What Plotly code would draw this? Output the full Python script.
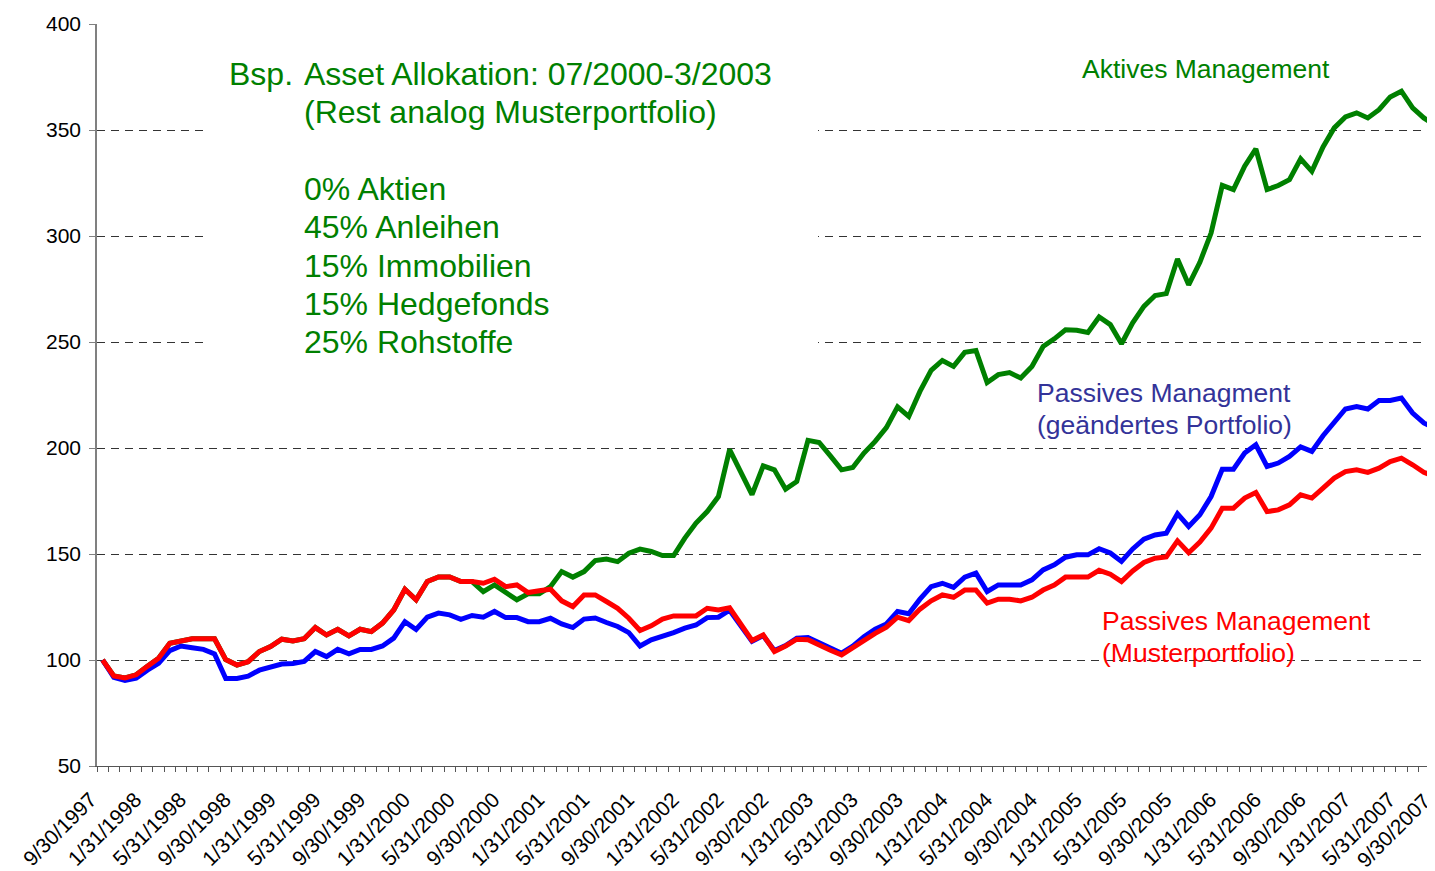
import calendar
import plotly.graph_objects as go

# ---------------- data ----------------
def month_ends(year, month, n):
    out = []
    for _ in range(n):
        d = calendar.monthrange(year, month)[1]
        out.append(f"{month}/{d}/{year}")
        month += 1
        if month > 12:
            month = 1
            year += 1
    return out

dates = month_ends(1997, 9, 121)          # 9/30/1997 ... 9/30/2007 (monthly)
label_step = 4                             # a label every 4 months

passiv_muster = [
    100, 92.5, 91.5, 93, 97, 100.8, 107.9, 108.7, 110, 110,
    110, 100.2, 97.6, 99.2, 104, 106.3, 109.8, 109, 110, 115.3,
    111.8, 114.5, 111.4, 114.5, 113.4, 117.4, 123.6, 133.4, 128.4, 137,
    139.2, 139.2, 137, 137, 136.2, 138.1, 134.6, 135.4, 131.8, 132.7,
    133.4, 127.9, 125.2, 130.7, 130.7, 127.6, 124.4, 119.7, 113.9, 116.1,
    119.3, 120.8, 120.8, 120.8, 124.4, 123.6, 124.6, 116.8, 109.2, 111.8,
    104, 106.6, 109.8, 109.6, 106.8, 104.6, 102.4, 106, 109.5, 112.6,
    115.5, 120.2, 118.6, 124, 127.9, 130.7, 129.6, 133, 133, 126.8,
    128.7, 128.7, 127.9, 129.6, 133, 135.4, 139.1, 139.1, 139.1, 142.3,
    140.5, 137, 142, 146, 148, 148.6, 156.2, 150.6, 155.6, 162.2,
    171.6, 171.6, 176.4, 179, 170, 170.8, 173.2, 177.9, 176.4, 181.1,
    185.8, 188.9, 189.7, 188.5, 190.5, 193.6, 195.2, 192.1, 188.5, 186.6,
    185.5,
]

passiv_geaendert = [
    100, 91.8, 90.4, 91.4, 95.2, 98.4, 104.4, 106.6, 105.8, 105,
    102.9, 91.3, 91.3, 92.4, 95.2, 96.6, 98.1, 98.4, 99.3, 104,
    101.6, 105, 102.9, 105, 105, 106.6, 110.3, 118.1, 114.4, 120.2,
    122.1, 121.3, 119.2, 121, 120.2, 122.9, 120, 120, 118.1, 118.1,
    119.7, 117, 115.3, 119.3, 119.8, 117.7, 115.8, 112.9, 106.6, 109.5,
    111, 112.9, 115, 116.5, 120, 120.2, 123.5, 116.3, 108.8, 111.5,
    104.5, 106.8, 110.3, 110.6, 108, 105.5, 103.2, 106.5, 111, 114.5,
    117, 122.9, 121.8, 128.7, 134.6, 136.2, 134.3, 139.1, 141, 132.3,
    135.4, 135.4, 135.4, 137.8, 142.5, 144.9, 148.5, 149.6, 149.6, 152.5,
    150.5, 146.5, 152.4, 157, 159, 159.8, 169, 163, 168.5, 177.1,
    190, 190, 197.6, 201.5, 191.3, 192.9, 196, 200.5, 198.4, 205.8,
    211.8, 218.4, 219.6, 218.4, 222.4, 222.4, 223.6, 216.5, 211.8, 209.4,
    208.5,
]

aktiv = [
    100, 92.5, 91.5, 93, 97, 100.8, 107.9, 108.7, 110, 110,
    110, 100.2, 97.6, 99.2, 104, 106.3, 109.8, 109, 110, 115.3,
    111.8, 114.5, 111.4, 114.5, 113.4, 117.4, 123.6, 133.4, 128.4, 137,
    139.2, 139.2, 137, 137, 132.2, 135.4, 132.2, 128.4, 131.2, 131.2,
    134.6, 141.7, 139.1, 141.7, 146.9, 147.6, 146.4, 150.4, 152.3, 151.2,
    149.3, 149.3, 157.5, 164.6, 170, 177.1, 199.2, 188.6, 178, 191.6,
    189.7, 180.6, 184.2, 203.6, 202.6, 196.3, 189.7, 190.8, 197.6, 203.1,
    209.6, 219.4, 214.9, 226.7, 236.6, 241.3, 238.5, 245.1, 246, 230.9,
    234.6, 235.6, 233, 238.5, 247.9, 251.5, 255.8, 255.5, 254.5, 261.8,
    258.2, 249.2, 259, 266.8, 271.9, 272.8, 289.2, 277, 287.6, 301.4,
    323.9, 321.9, 332.9, 341.1, 321.9, 323.8, 326.6, 336.4, 330.5, 342,
    351, 356.2, 358.1, 355.7, 359.6, 365.6, 368.3, 360.4, 355.7, 352.1,
    350.5,
]

y_ticks = [50, 100, 150, 200, 250, 300, 350, 400]

info_lines = [
    "0% Aktien",
    "45% Anleihen",
    "15% Immobilien",
    "15% Hedgefonds",
    "25% Rohstoffe",
]

# ---------------- layout helpers ----------------
PAGE = 8                       # browser body margin around the figure
W, H = 1435 - PAGE, 871 - PAGE
ML, MR, MT, MB = 97 - PAGE, 0, 24 - PAGE, 105
PW, PH = W - ML - MR, H - MT - MB
FONT = "Liberation Sans, Arial, sans-serif"

def pxx(x):                    # screen pixel -> paper fraction
    return (x - PAGE - ML) / PW

def pxy(y):
    return 1 - (y - PAGE - MT) / PH

GREEN = "#008000"
BLUE = "#0000FF"
RED = "#FF0000"
NAVY = "#333399"

fig = go.Figure()
for vals, col in [(aktiv, GREEN), (passiv_geaendert, BLUE), (passiv_muster, RED)]:
    fig.add_trace(go.Scatter(x=dates, y=vals, mode="lines",
                             line=dict(color=col, width=5),
                             showlegend=False, hoverinfo="skip"))

XR = [-0.5, 119.0]
ticktext = [d if i % label_step == 0 else "" for i, d in enumerate(dates)]
fig.update_xaxes(type="category", range=XR, tickmode="array",
                 tickvals=dates, ticktext=ticktext, tickson="boundaries",
                 ticks="outside", ticklen=5, tickcolor="#555555", tickwidth=1,
                 showline=True, linecolor="#555555", linewidth=1,
                 showgrid=False, tickangle=-45,
                 ticklabelstandoff=12, ticklabelshift=-12,
                 tickfont=dict(family=FONT, size=21, color="black"))
fig.update_yaxes(range=[50, 400], tickmode="array", tickvals=y_ticks,
                 showgrid=True, gridcolor="#333333", griddash="8px,6px",
                 gridwidth=1, showline=True, linecolor="#808080", linewidth=1.5,
                 ticks="outside", ticklen=6, tickcolor="#808080",
                 zeroline=False, ticklabelstandoff=4,
                 tickfont=dict(family=FONT, size=21, color="black"))

# white box behind the info text (interrupts grid lines)
fig.add_shape(type="rect", xref="paper", yref="paper",
              x0=pxx(207), x1=pxx(818), y0=pxy(368), y1=pxy(30),
              fillcolor="white", line_width=0, layer="above")

def txt(text, x, y, size, color, anchor="left"):
    fig.add_annotation(xref="paper", yref="paper", x=pxx(x), y=pxy(y),
                       text=text, showarrow=False, xanchor=anchor,
                       yanchor="middle",
                       font=dict(family=FONT, size=size, color=color))

txt("Bsp.", 227, 74, 32, GREEN)
txt("Asset Allokation: 07/2000-3/2003", 302, 74, 32, GREEN)
txt("(Rest analog Musterportfolio)", 302, 112, 32, GREEN)
for k, line in enumerate(info_lines):
    txt(line, 302, 189 + k * 38.3, 32, GREEN)

txt("Aktives Management", 1080, 69, 26.5, GREEN)
txt("Passives Managment", 1035, 393, 26.5, NAVY)
txt("(geändertes Portfolio)", 1035, 425, 26.5, NAVY)
txt("Passives Management", 1100, 621, 26.5, RED)
txt("(Musterportfolio)", 1100, 653, 26.5, RED)

# last category label lies just beyond the visible edge of the axis
last_i = len(dates) - 1
fig.add_annotation(xref="paper", yref="paper",
                   x=(last_i - XR[0]) / (XR[1] - XR[0]), y=0,
                   xshift=-9, yshift=-21,
                   text=dates[last_i], textangle=-45, showarrow=False,
                   xanchor="right", yanchor="top",
                   font=dict(family=FONT, size=21, color="black"))

fig.update_layout(width=W, height=H, margin=dict(l=ML, r=MR, t=MT, b=MB),
                  plot_bgcolor="white", paper_bgcolor="white",
                  showlegend=False)

fig.write_html("out.html")
